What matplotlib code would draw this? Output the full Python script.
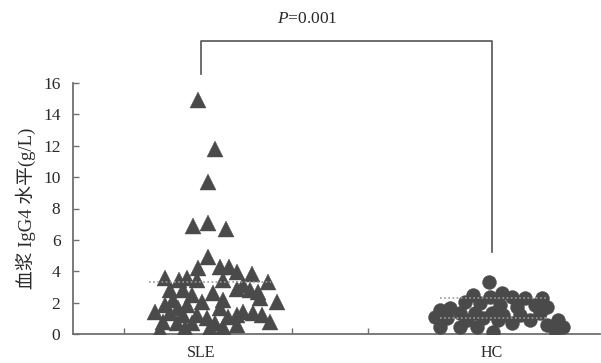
import matplotlib
matplotlib.use("Agg")
import matplotlib.pyplot as plt
import numpy as np

categories = ["SLE", "HC"]

sle_offsets = [-0.010, 0.048, 0.024, -0.027, 0.024, 0.086, 0.024, -0.010, 0.065, 0.096,
               0.124, 0.175, -0.124, -0.076, -0.048, 0.230, -0.014, 0.076, 0.144, 0.124,
               -0.107, -0.062, 0.168, 0.196, -0.031, 0.041, -0.096, 0.003, 0.076, -0.124,
               -0.048, 0.203, 0.261, -0.079, 0.065, 0.144, -0.158, 0.179, 0.210, 0.124,
               -0.107, -0.014, -0.062, 0.021, 0.093, -0.131, -0.082, -0.031, 0.048, 0.124,
               0.237, -0.141, -0.055, 0.076, 0.031]
sle_values = [14.9, 11.8, 9.7, 6.9, 7.1, 6.7, 4.9, 4.2, 4.3, 4.3,
              3.95, 3.8, 3.6, 3.45, 3.55, 3.3, 3.45, 3.45, 3.1, 2.9,
              2.8, 2.8, 2.8, 2.7, 2.5, 2.6, 2.15, 2.05, 2.15, 1.85,
              1.85, 2.3, 2.05, 1.65, 1.65, 1.4, 1.4, 1.35, 1.2, 1.2,
              1.35, 1.2, 1.2, 1.0, 1.1, 0.75, 0.7, 0.7, 0.7, 0.6,
              0.75, 0.25, 0.4, 0.45, 0.4]

hc_offsets = [-0.010, -0.065, 0.034, 0.069, 0.113, -0.007, 0.172, -0.093, -0.041, 0.027,
              0.086, 0.148, 0.189, -0.144, -0.179, -0.110, -0.058, 0.0, 0.038, 0.096,
              0.165, -0.196, -0.155, -0.086, -0.031, 0.021, 0.069, 0.131, 0.227, -0.179,
              -0.110, -0.052, 0.003, 0.216, 0.244, 0.189]
hc_values = [3.3, 2.5, 2.6, 2.35, 2.3, 2.35, 2.3, 2.05, 2.0, 1.85,
             1.7, 1.85, 1.7, 1.65, 1.5, 1.35, 1.35, 1.35, 1.2, 1.2,
             1.35, 1.1, 1.0, 0.9, 1.0, 0.9, 0.7, 0.9, 0.9, 0.45,
             0.45, 0.45, 0.1, 0.25, 0.45, 0.55]

sle_ref_lines = [3.3]
hc_ref_lines = [2.3, 1.0]

y_ticks = [0, 2, 4, 6, 8, 10, 12, 14, 16]
p_label = "=0.001"
y_label = "血浆 IgG4 水平(g/L)"

plt.rcParams['font.family'] = ['Liberation Serif', 'Noto Sans CJK SC']
plt.rcParams['mathtext.fontset'] = 'custom'
plt.rcParams['mathtext.it'] = 'Liberation Serif:italic'
plt.rcParams['mathtext.rm'] = 'Liberation Serif'

fig = plt.figure(figsize=(6.01, 3.63), dpi=100)
ax = fig.add_axes([73/601, 29/363, 527/601, 251/363])

mc = "#4a4a4a"
axc = "#707070"
tc = "#2a2a2a"

ax.plot(1 + np.array(sle_offsets), sle_values, linestyle="none", marker="^",
        ms=12, color=mc, mec=mc, mew=0.3, zorder=3)
ax.plot(2 + np.array(hc_offsets), hc_values, linestyle="none", marker="o",
        ms=10, color=mc, mec=mc, mew=0.3, zorder=3)

for v in sle_ref_lines:
    ax.plot([0.82, 1.24], [v, v], linestyle=(0, (1, 1.5)), color="#9a9a9a", lw=1.2, zorder=4)
for v in hc_ref_lines:
    ax.plot([1.82, 2.19], [v, v], linestyle=(0, (1, 1.5)), color="#9a9a9a", lw=1.2, zorder=4)

ax.set_xlim(0.56, 2.371)
ax.set_ylim(0, 16)
ax.set_yticks(y_ticks)
ax.set_yticklabels([str(t) for t in y_ticks], fontsize=12.5, color=tc)
ax.set_xticks([1, 2])
ax.set_xticklabels(categories, fontsize=11.5, color=tc)
ax.set_xticks([0.735, 1.038, 1.313, 1.574], minor=True)
ax.tick_params(axis="x", which="major", length=0, pad=8)
ax.tick_params(axis="x", which="minor", direction="in", length=4, color=axc, width=1)
ax.tick_params(axis="y", direction="in", length=4.5, color=axc, width=1, pad=9)

for s in ["top", "right"]:
    ax.spines[s].set_visible(False)
for s in ["left", "bottom"]:
    ax.spines[s].set_color(axc)
    ax.spines[s].set_linewidth(1.3)

ax.set_ylabel(y_label, fontsize=13.5, labelpad=5, color=tc)

# significance bracket
top = 18.7
ax.plot([1, 1, 2, 2], [16.6, top, top, 5.2], color="#555555", lw=1.2, clip_on=False)
ax.text(1.364, 20.1, "$\\mathit{P}$" + p_label, ha="center", va="center", fontsize=12.5,
        color=tc, clip_on=False)

fig.savefig("out.png", dpi=100)
